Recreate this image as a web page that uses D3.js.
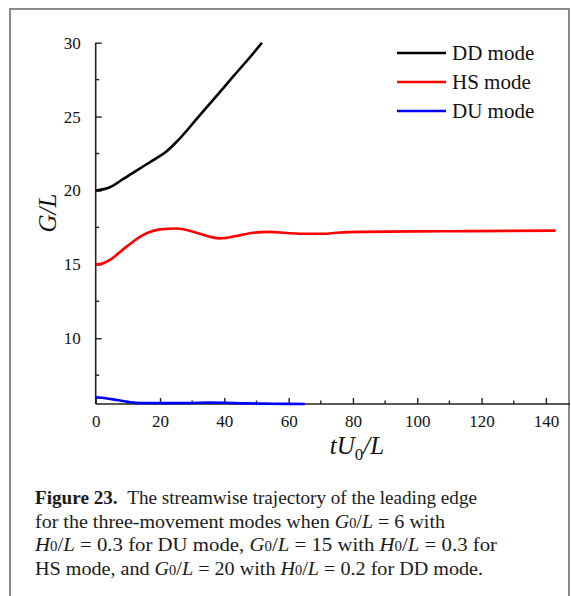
<!DOCTYPE html>
<html>
<head>
<meta charset="utf-8">
<script src="https://cdn.jsdelivr.net/npm/d3@7"></script>
<style>
  html, body { margin: 0; padding: 0; background: #fff; }
  svg { display: block; }
  svg, svg text { font-family: "Liberation Serif", "Times New Roman", Times, "DejaVu Serif", serif; }
</style>
</head>
<body>
<svg id="chart" width="571" height="596"></svg>
<script>
// Leading-edge trajectory G/L against tU0/L for each movement mode
const ddT = [0, 4.4, 8.6, 13.8, 18.9, 22, 25.2, 32.4, 37.6, 42.7, 47.9, 51.7];
const ddG = [20, 20.22, 20.78, 21.5, 22.19, 22.64, 23.3, 25.1, 26.4, 27.7, 29.0, 30];

const hsT = [0, 2, 4.4, 9.6, 14.8, 20, 25.2, 30.3, 35.5, 38.6, 43.8, 48.9, 54.1, 59.3, 63.5, 71.7, 75.9, 83, 109, 143];
const hsG = [15, 15.05, 15.3, 16.2, 16.99, 17.37, 17.43, 17.21, 16.87, 16.76, 16.92, 17.14, 17.2, 17.12, 17.07, 17.07, 17.16, 17.2, 17.24, 17.28];

const duT = [0, 2, 5, 8, 11, 14, 20, 30, 35, 40, 45, 50, 55, 60, 65];
const duG = [6.0, 5.97, 5.88, 5.77, 5.66, 5.62, 5.61, 5.62, 5.64, 5.63, 5.6, 5.58, 5.57, 5.56, 5.55];

const xMajor = [0, 20, 40, 60, 80, 100, 120, 140];
const xMinor = [10, 30, 50, 70, 90, 110, 130];
const yMajor = [10, 15, 20, 25, 30];
const yMinor = [7.5, 12.5, 17.5, 22.5, 27.5];

const legendNames = ["DD mode", "HS mode", "DU mode"];
const legendColors = ["#000000", "#ff0000", "#0000ff"];

const serif = "Liberation Serif, Times New Roman, Times, DejaVu Serif, serif";
const svg = d3.select("#chart").attr("font-family", serif);

// page frame (open at the bottom)
svg.append("path")
  .attr("d", "M10,600V9H569V600")
  .attr("fill", "none")
  .attr("stroke", "#8a8a8a")
  .attr("stroke-width", 2);

const x = d3.scaleLinear().domain([0, 147.5]).range([95.7, 570]);
const y = d3.scaleLinear().domain([5.55, 30]).range([404, 42.7]);

const axisColor = "#222";

// x axis: ticks point inward (upward)
const gx = svg.append("g").attr("transform", `translate(0,${y(5.55)})`);
gx.call(d3.axisBottom(x).tickValues(xMajor).tickSize(-6).tickPadding(11).tickFormat(d3.format("d")))
  .call(g => g.select(".domain").remove())
  .attr("font-family", serif);
gx.selectAll(".tick line").attr("stroke", axisColor).attr("stroke-width", 1.4);
gx.selectAll(".tick text").attr("font-size", 17).attr("fill", "#111");
gx.selectAll(".minor").data(xMinor).join("line")
  .attr("x1", d => x(d)).attr("x2", d => x(d))
  .attr("y1", 0).attr("y2", -3.5)
  .attr("stroke", axisColor).attr("stroke-width", 1.4);

// y axis: ticks point inward (to the right)
const gy = svg.append("g").attr("transform", `translate(${x(0)},0)`);
gy.call(d3.axisLeft(y).tickValues(yMajor).tickSize(-6).tickPadding(15).tickFormat(d3.format("d")))
  .call(g => g.select(".domain").remove())
  .attr("font-family", serif);
gy.selectAll(".tick line").attr("stroke", axisColor).attr("stroke-width", 1.4);
gy.selectAll(".tick text").attr("font-size", 17).attr("fill", "#111");
gy.selectAll(".minor").data(yMinor).join("line")
  .attr("y1", d => y(d)).attr("y2", d => y(d))
  .attr("x1", 0).attr("x2", 3.5)
  .attr("stroke", axisColor).attr("stroke-width", 1.4);

// axis lines
svg.append("line")
  .attr("x1", x(0)).attr("x2", 570).attr("y1", y(5.55)).attr("y2", y(5.55))
  .attr("stroke", axisColor).attr("stroke-width", 1.6);
svg.append("line")
  .attr("x1", x(0)).attr("x2", x(0)).attr("y1", y(5.55)).attr("y2", y(30))
  .attr("stroke", axisColor).attr("stroke-width", 1.6);

// curves
const line = d3.line().x(d => x(d[0])).y(d => y(d[1])).curve(d3.curveMonotoneX);
const series = [
  { t: ddT, g: ddG, color: legendColors[0] },
  { t: hsT, g: hsG, color: legendColors[1] },
  { t: duT, g: duG, color: legendColors[2] }
];
series.forEach(s => {
  svg.append("path")
    .datum(s.t.map((t, i) => [t, s.g[i]]))
    .attr("d", line)
    .attr("fill", "none")
    .attr("stroke", s.color)
    .attr("stroke-width", 2.6)
    .attr("stroke-linejoin", "round");
});

// legend
const legend = svg.append("g");
legendNames.forEach((name, i) => {
  const ly = 53 + i * 29;
  legend.append("line")
    .attr("x1", 397).attr("x2", 446).attr("y1", ly).attr("y2", ly)
    .attr("stroke", legendColors[i]).attr("stroke-width", 2.6);
  legend.append("text")
    .attr("x", 452).attr("y", ly + 7)
    .attr("font-size", 21).attr("fill", "#111")
    .text(name);
});

// axis titles
const xt = svg.append("text")
  .attr("x", 357).attr("y", 454)
  .attr("text-anchor", "middle")
  .attr("font-size", 25).attr("fill", "#111");
xt.append("tspan").attr("font-style", "italic").text("tU");
xt.append("tspan").attr("font-size", 17).attr("dy", 6).text("0");
xt.append("tspan").attr("dy", -6).attr("font-style", "italic").text("/L");

svg.append("text")
  .attr("transform", "translate(56,213) rotate(-90)")
  .attr("text-anchor", "middle")
  .attr("font-size", 25).attr("font-style", "italic").attr("fill", "#111")
  .text("G/L");

// caption
const capLines = [
  [["b", "Figure 23."], ["r", "\u2002The streamwise trajectory of the leading edge"]],
  [["r", "for the three-movement modes when "], ["i", "G"], ["s", "0"], ["r", "/"], ["i", "L"], ["r", " = 6 with"]],
  [["i", "H"], ["s", "0"], ["r", "/"], ["i", "L"], ["r", " = 0.3 for DU mode, "], ["i", "G"], ["s", "0"], ["r", "/"], ["i", "L"], ["r", " = 15 with "], ["i", "H"], ["s", "0"], ["r", "/"], ["i", "L"], ["r", " = 0.3 for"]],
  [["r", "HS mode, and "], ["i", "G"], ["s", "0"], ["r", "/"], ["i", "L"], ["r", " = 20 with "], ["i", "H"], ["s", "0"], ["r", "/"], ["i", "L"], ["r", " = 0.2 for DD mode."]]
];
const capWidths = [442, 410, 462, 448];
capLines.forEach((parts, i) => {
  const t = svg.append("text")
    .attr("x", 35).attr("y", 504 + i * 23.6)
    .attr("font-size", 19.5).attr("fill", "#1a1a1a")
    .attr("textLength", capWidths[i]).attr("lengthAdjust", "spacingAndGlyphs");
  parts.forEach(([k, s]) => {
    const sp = t.append("tspan").text(s);
    if (k === "b") sp.attr("font-weight", "bold");
    if (k === "i") sp.attr("font-style", "italic");
    if (k === "s") sp.attr("font-size", 14);
  });
});
</script>
</body>
</html>
